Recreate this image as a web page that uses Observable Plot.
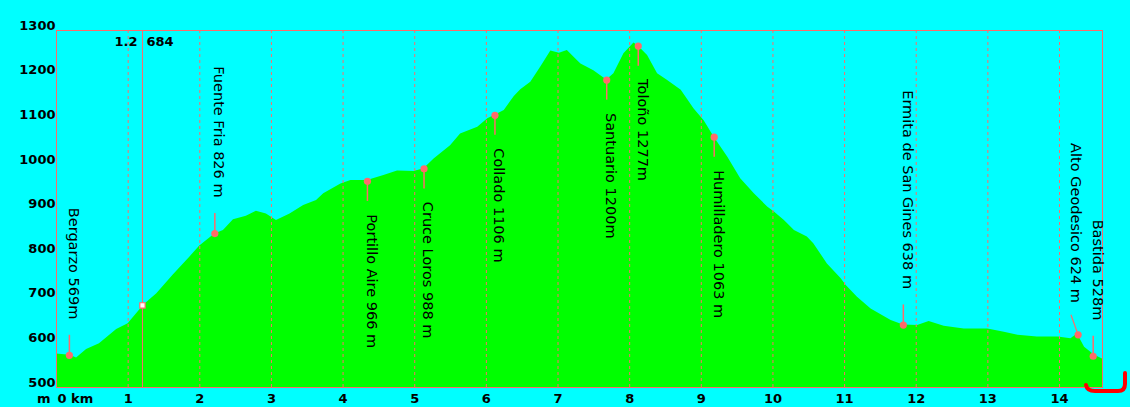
<!DOCTYPE html>
<html>
<head>
<meta charset="utf-8">
<script src="https://cdn.jsdelivr.net/npm/d3@7"></script>
<script src="https://cdn.jsdelivr.net/npm/@observablehq/plot@0.6"></script>
<style>
  html, body { margin: 0; padding: 0; background: #00ffff; }
  #wrap { position: relative; width: 1130px; height: 407px; overflow: hidden; }
  #deco { position: absolute; left: 0; top: 0; pointer-events: none; }
</style>
</head>
<body>
<div id="wrap"></div>
<script>
// Elevation profile (distance km, elevation m)
const profileKm = [0, 0.19, 0.28, 0.42, 0.60, 0.84, 1.00, 1.22, 1.40, 1.63, 1.86, 2.00, 2.21, 2.33, 2.47, 2.65, 2.79, 2.93, 3.07, 3.26, 3.45, 3.63, 3.73, 3.97, 4.11, 4.34, 4.57, 4.76, 4.99, 5.13, 5.27, 5.50, 5.64, 5.88, 6.02, 6.12, 6.25, 6.39, 6.48, 6.62, 6.76, 6.90, 7.02, 7.13, 7.27, 7.32, 7.50, 7.68, 7.78, 7.92, 8.06, 8.12, 8.25, 8.39, 8.53, 8.72, 8.90, 9.04, 9.18, 9.37, 9.55, 9.74, 9.93, 10.02, 10.16, 10.30, 10.48, 10.57, 10.76, 10.95, 11.02, 11.18, 11.37, 11.65, 11.82, 12.02, 12.18, 12.39, 12.67, 13.00, 13.23, 13.42, 13.69, 13.98, 14.16, 14.25, 14.35, 14.49, 14.60];
const profileElev = [575, 572, 566, 585, 598, 630, 643, 685, 710, 752, 792, 817, 844, 852, 876, 884, 895, 889, 874, 889, 908, 919, 934, 956, 964, 964, 975, 985, 984, 990, 1012, 1042, 1068, 1083, 1102, 1110, 1121, 1152, 1167, 1184, 1218, 1254, 1249, 1255, 1233, 1225, 1210, 1189, 1203, 1248, 1272, 1265, 1244, 1203, 1188, 1166, 1124, 1098, 1061, 1016, 968, 934, 904, 893, 874, 852, 837, 822, 777, 744, 729, 702, 676, 650, 640, 639, 648, 637, 631, 631, 624, 617, 613, 613, 609, 620, 590, 572, 564];

// Waypoints
const wpNames = ["Bergarzo 569m", "Fuente Fria 826 m", "Portillo Aire 966 m", "Cruce Loros 988 m", "Collado 1106 m", "Santuario 1200m", "Toloño 1277m", "Humilladero 1063 m", "Ermita de San Gines 638 m", "Alto Geodesico 624 m", "Bastida 528m"];
const wpKm = [0.18, 2.21, 4.34, 5.13, 6.12, 7.68, 8.12, 9.18, 11.82, 14.26, 14.47];
const wpElev = [572, 845, 962, 990, 1110, 1189, 1265, 1061, 640, 618, 570];
const wpSide = ["above", "above", "below", "below", "below", "below", "below", "below", "above", "slant", "above"];

// Marker
const markKm = 1.2;
const markElev = 684;
const markLabelLeft = "1.2";
const markLabelRight = "684";

// Axes
const xTicks = [1, 2, 3, 4, 5, 6, 7, 8, 9, 10, 11, 12, 13, 14];
const yTicks = [500, 600, 700, 800, 900, 1000, 1100, 1200, 1300];
const xDomain = [0, 14.6];
const yDomain = [500, 1300];
const stemLen = 45; // m, length of the pin stems

const profile = profileKm.map((k, i) => ({km: k, elev: profileElev[i]}));
const wps = wpNames.map((n, i) => ({name: n, km: wpKm[i], elev: wpElev[i], side: wpSide[i]}));
const above = wps.filter(d => d.side === "above");
const below = wps.filter(d => d.side === "below");
const slant = wps.filter(d => d.side === "slant");

const salmon = "#ff6a6a";
const axisFont = "DejaVu Sans";

const chart = Plot.plot({
  width: 1130,
  height: 407,
  marginLeft: 56,
  marginRight: 28,
  marginTop: 30,
  marginBottom: 20,
  style: {background: "#00ffff", fontFamily: "DejaVu Sans", color: "black"},
  x: {domain: xDomain},
  y: {domain: yDomain},
  marks: [
    Plot.areaY(profile, {x: "km", y1: yDomain[0], y2: "elev", fill: "#00ff00"}),
    Plot.ruleX(xTicks, {stroke: salmon, strokeDasharray: "3,3", strokeWidth: 1}),
    Plot.frame({stroke: salmon, strokeWidth: 1}),
    Plot.ruleX([markKm], {stroke: salmon, strokeWidth: 1}),
    Plot.dot([{km: markKm, elev: markElev}], {x: "km", y: "elev", symbol: "square", r: 3, fill: "white", stroke: salmon, strokeWidth: 1.2}),
    Plot.text([markLabelLeft], {x: markKm, y: yDomain[1], text: d => d, textAnchor: "end", dx: -5, dy: 11, fontSize: 13, fontWeight: "bold", fill: "black"}),
    Plot.text([markLabelRight], {x: markKm, y: yDomain[1], text: d => d, textAnchor: "start", dx: 4, dy: 11, fontSize: 13, fontWeight: "bold", fill: "black"}),
    // stems
    Plot.ruleX(above, {x: "km", y1: "elev", y2: d => d.elev + stemLen, stroke: salmon, strokeWidth: 1.5}),
    Plot.ruleX(below, {x: "km", y1: "elev", y2: d => d.elev - stemLen, stroke: salmon, strokeWidth: 1.5}),
    Plot.link(slant, {x1: d => d.km - 0.1, y1: d => d.elev + stemLen, x2: "km", y2: "elev", stroke: salmon, strokeWidth: 1.2}),
    Plot.dot(wps, {x: "km", y: "elev", r: 3.6, fill: salmon}),
    // labels
    Plot.text(above, {x: "km", y: "elev", text: "name", rotate: 90, textAnchor: "end", dx: 4, dy: -36, fontSize: 14.5, fill: "black"}),
    Plot.text(below, {x: "km", y: "elev", text: "name", rotate: 90, textAnchor: "start", dx: 4, dy: 33, fontSize: 14.5, fill: "black"}),
    Plot.text(slant, {x: "km", y: "elev", text: "name", rotate: 90, textAnchor: "end", dx: -3, dy: -32, fontSize: 14.5, fill: "black"}),
    // axes
    Plot.axisX(xTicks, {tickSize: 0, tickPadding: 6, fontSize: 13, fontWeight: "bold", fontFamily: axisFont, label: null, tickFormat: "d"}),
    Plot.text(["0 km"], {x: xDomain[0], y: yDomain[0], text: d => d, textAnchor: "start", dx: 1, dy: 11, fontSize: 13, fontWeight: "bold"}),
    Plot.text(["m"], {x: xDomain[0], y: yDomain[0], text: d => d, textAnchor: "end", dx: -6, dy: 11, fontSize: 13, fontWeight: "bold"}),
    Plot.axisY(yTicks, {tickSize: 0, tickPadding: 1, dy: -5, fontSize: 13, fontWeight: "bold", fontFamily: axisFont, label: null, tickFormat: "d"})
  ]
});

const wrap = document.getElementById("wrap");
wrap.appendChild(chart);

// decorative red hook at bottom-right
const ns = "http://www.w3.org/2000/svg";
const deco = document.createElementNS(ns, "svg");
deco.setAttribute("id", "deco");
deco.setAttribute("width", "1130");
deco.setAttribute("height", "407");
const path = document.createElementNS(ns, "path");
path.setAttribute("d", "M1086,385 Q1087,391 1095,391 L1118,391 Q1125,391 1125,384 L1125,373");
path.setAttribute("fill", "none");
path.setAttribute("stroke", "#ff0000");
path.setAttribute("stroke-width", "4");
path.setAttribute("stroke-linecap", "round");
deco.appendChild(path);
wrap.appendChild(deco);
</script>
</body>
</html>
